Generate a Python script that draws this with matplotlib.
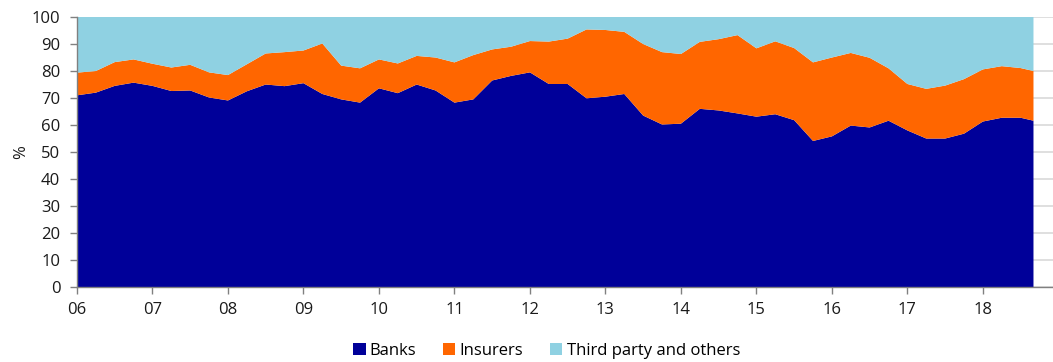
import numpy as np
import matplotlib.pyplot as plt
from matplotlib.patches import Patch

# Quarterly time axis, years since 2006 (last point is the latest month)
years = [0.00, 0.25, 0.50, 0.75, 1.00, 1.25, 1.50, 1.75, 2.00, 2.25, 2.50, 2.75,
         3.00, 3.25, 3.50, 3.75, 4.00, 4.25, 4.50, 4.75, 5.00, 5.25, 5.50, 5.75,
         6.00, 6.25, 6.50, 6.75, 7.00, 7.25, 7.50, 7.75, 8.00, 8.25, 8.50, 8.75,
         9.00, 9.25, 9.50, 9.75, 10.00, 10.25, 10.50, 10.75, 11.00, 11.25, 11.50,
         11.75, 12.00, 12.25, 12.50, 12.67]

# Banks share, %
banks = [71.0, 72.0, 74.5, 75.7, 74.5, 72.6, 72.8, 70.2, 69.1, 72.5, 75.0, 74.4,
         75.5, 71.5, 69.5, 68.3, 73.6, 71.8, 75.0, 72.8, 68.3, 69.5, 76.5, 78.2,
         79.5, 75.2, 75.2, 69.9, 70.5, 71.5, 63.5, 60.2, 60.5, 66.0, 65.4, 64.3,
         63.1, 64.0, 61.8, 54.1, 55.8, 59.8, 59.1, 61.6, 58.0, 55.0, 55.0, 56.8,
         61.3, 62.7, 62.7, 61.6]

# Banks + insurers cumulative share, %
banks_ins = [79.4, 80.0, 83.3, 84.3, 82.7, 81.3, 82.3, 79.5, 78.5, 82.5, 86.5, 87.0,
             87.6, 90.2, 82.0, 81.0, 84.3, 82.8, 85.6, 85.0, 83.2, 85.9, 88.0, 89.0,
             91.1, 90.9, 92.0, 95.4, 95.2, 94.5, 90.0, 87.0, 86.3, 90.8, 91.8, 93.3,
             88.4, 91.0, 88.5, 83.2, 85.0, 86.7, 84.9, 81.0, 75.2, 73.4, 74.6, 77.0,
             80.6, 81.8, 81.1, 80.0]

year_labels = ['06', '07', '08', '09', '10', '11', '12', '13', '14', '15', '16', '17', '18']
series_names = ['Banks', 'Insurers', 'Third party and others']
colors = ['#000099', '#FF6600', '#8FD1E2']

x = np.array(years)
b = np.array(banks)
ins = np.array(banks_ins) - b
oth = 100 - np.array(banks_ins)

plt.rcParams['font.family'] = ['Open Sans', 'DejaVu Sans']

fig = plt.figure(figsize=(10.53, 3.62), dpi=100)
ax = fig.add_axes([0.0731, 0.207, 0.927, 0.746])

ax.stackplot(x, b, ins, oth, colors=colors, linewidth=0, zorder=2)

ax.set_xlim(0, 12.93)
ax.set_ylim(0, 100)
ax.set_yticks(range(0, 101, 10))
ax.set_xticks(range(len(year_labels)))
ax.set_xticklabels(year_labels)
ax.yaxis.grid(True, color='#d9d9d9', lw=1.2, zorder=0)
ax.set_axisbelow(True)

for s in ['top', 'right']:
    ax.spines[s].set_visible(False)
for s in ['left', 'bottom']:
    ax.spines[s].set_color('#808080')
    ax.spines[s].set_linewidth(1.0)
    ax.spines[s].set_zorder(3)
ax.tick_params(axis='both', colors='#808080', labelcolor='#1a1a1a',
               labelsize=12, length=5, width=1)
ax.tick_params(axis='x', pad=6)
ax.tick_params(axis='y', pad=7)
ax.set_ylabel('%', fontsize=12, color='#1a1a1a', labelpad=2)

handles = [Patch(facecolor=c, edgecolor='none') for c in colors]
fig.legend(handles, series_names, loc='center', bbox_to_anchor=(0.519, 0.031),
           ncol=3, frameon=False, fontsize=12, handlelength=0.75, handleheight=0.75,
           handletextpad=0.25, columnspacing=1.6, borderpad=0)

fig.savefig('out.png', dpi=100)
